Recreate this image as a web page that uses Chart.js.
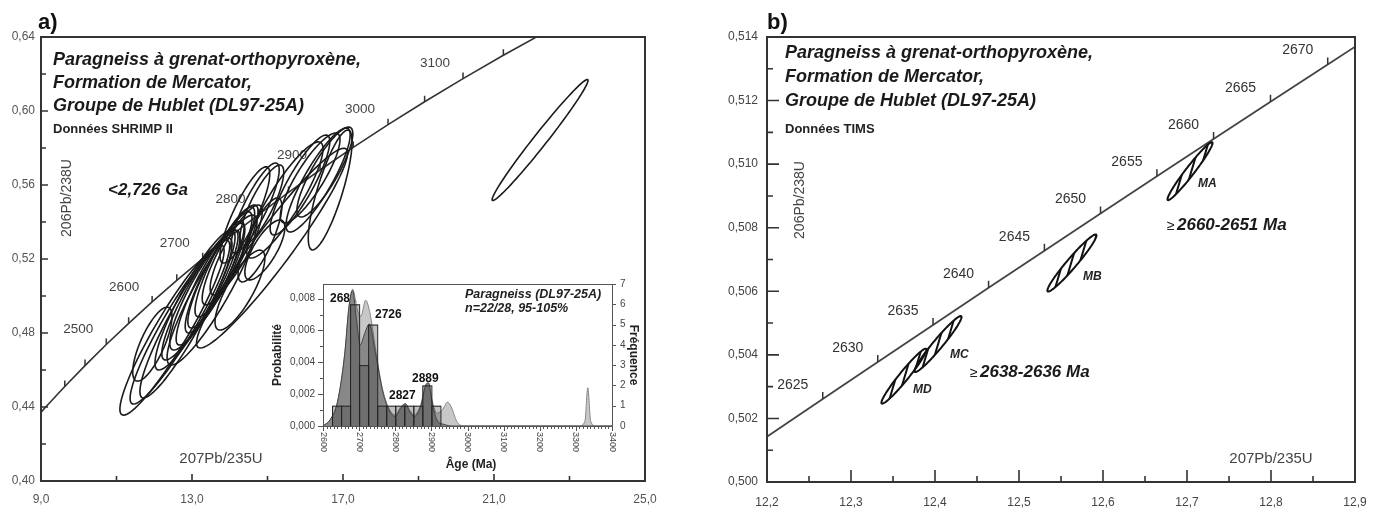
<!DOCTYPE html>
<html lang="fr">
<head>
<meta charset="utf-8">
<title>Concordia DL97-25A</title>
<script src="https://cdn.jsdelivr.net/npm/chart.js@4.4.1/dist/chart.umd.min.js"></script>
<style>
  html, body { margin: 0; padding: 0; background: #fff; }
  #wrap { position: relative; width: 1381px; height: 512px; overflow: hidden; background: #fff; }
  #wrap canvas { position: absolute; }
</style>
</head>
<body>
<div id="wrap">
  <canvas id="chart-a" width="680" height="512" style="left:0;top:0"></canvas>
  <canvas id="chart-inset" width="400" height="205" style="left:250px;top:270px"></canvas>
  <canvas id="chart-b" width="691" height="512" style="left:690px;top:0"></canvas>
</div>
<script>
// ── Data ──────────────────────────────────────────────────────────────────────
const LAMBDA_238 = 1.55125e-4;   // Ma^-1
const LAMBDA_235 = 9.8485e-4;    // Ma^-1

// panel a : SHRIMP II
const aConcordiaAges = [2300, 2350, 2400, 2450, 2500, 2550, 2600, 2650, 2700, 2750, 2800,
                        2850, 2900, 2950, 3000, 3050, 3100, 3150, 3200, 3250];
const aTickAges  = [2400, 2450, 2500, 2550, 2600, 2650, 2700, 2750, 2800, 2850, 2900, 2950, 3000, 3050, 3100, 3150];
const aLabelAges = [2500, 2600, 2700, 2800, 2900, 3000, 3100];

const aEllX   = [12.47, 12.68, 12.84, 11.95, 13.08, 13.21, 13.34, 13.48, 13.61, 13.74, 13.87, 13.53, 14.01, 14.17,
                 15.12, 14.40, 14.67, 14.85, 15.46, 15.86, 16.13, 16.34, 16.52, 16.66, 14.80, 14.93, 14.27, 22.22];
const aEllY   = [0.4816, 0.4859, 0.4881, 0.4740, 0.4978, 0.5005, 0.5032, 0.5070, 0.5097, 0.5141, 0.5184, 0.5032, 0.5222, 0.5249,
                 0.5259, 0.5438, 0.5476, 0.5492, 0.5519, 0.5600, 0.5638, 0.5627, 0.5670, 0.5573, 0.5303, 0.5249, 0.5032, 0.5843];
const aEllSX  = [1.38, 1.32, 1.22, 0.52, 1.06, 1.01, 0.93, 0.90, 0.79, 0.85, 0.79, 1.19, 0.74, 0.69,
                 2.00, 0.66, 0.64, 0.58, 1.01, 0.79, 0.79, 0.85, 0.74, 0.58, 0.58, 0.53, 0.66, 1.27];
const aEllSY  = [0.046, 0.0443, 0.0432, 0.0200, 0.0378, 0.0351, 0.0324, 0.0335, 0.0297, 0.0314, 0.0297, 0.0405, 0.027, 0.0243,
                 0.054, 0.026, 0.0243, 0.0216, 0.0314, 0.027, 0.0243, 0.0281, 0.0243, 0.0324, 0.0227, 0.0162, 0.0216, 0.0327];
const aEllRho = [0.93, 0.93, 0.92, 0.75, 0.90, 0.90, 0.88, 0.90, 0.88, 0.89, 0.88, 0.90, 0.87, 0.85,
                 0.95, 0.85, 0.85, 0.82, 0.88, 0.87, 0.85, 0.87, 0.85, 0.80, 0.80, 0.75, 0.80, 0.985];

// inset : probability density / histogram
const darkAges  = [2600, 2620, 2640, 2660, 2672, 2682, 2692, 2703, 2715, 2728, 2745, 2765, 2785, 2800, 2815,
                   2828, 2840, 2852, 2870, 2885, 2892, 2902, 2915, 2935, 2960, 3400];
const darkProb  = [0, 0.0004, 0.0015, 0.0045, 0.0075, 0.0085, 0.0068, 0.0051, 0.0058, 0.0064, 0.0046, 0.0022, 0.0009, 0.0006, 0.0011,
                   0.0014, 0.0009, 0.0006, 0.0012, 0.0026, 0.0027, 0.0015, 0.0004, 0.0001, 0, 0];
const lightAges = [2600, 2620, 2640, 2660, 2672, 2682, 2695, 2705, 2718, 2730, 2745, 2765, 2785, 2800, 2815, 2828, 2840,
                   2852, 2870, 2885, 2892, 2902, 2915, 2930, 2945, 2955, 2970, 2990, 3310, 3325, 3333, 3341, 3355, 3400];
const lightProb = [0, 0.0004, 0.0015, 0.0045, 0.0075, 0.0086, 0.0073, 0.0069, 0.0079, 0.0071, 0.0049, 0.0023, 0.0010, 0.0007, 0.0012, 0.0014, 0.0010,
                   0.0007, 0.0013, 0.0026, 0.0027, 0.0016, 0.0008, 0.0010, 0.0015, 0.0012, 0.0003, 0, 0, 0.0003, 0.0024, 0.0003, 0, 0];
const histBinStart = [2625, 2650, 2675, 2700, 2725, 2750, 2775, 2800, 2825, 2850, 2875, 2900];
const histCount    = [1, 1, 6, 3, 5, 1, 1, 1, 1, 1, 2, 1];
const HIST_BIN = 25;

// panel b : TIMS
const bConcordiaAges = [2610, 2615, 2620, 2625, 2630, 2635, 2640, 2645, 2650, 2655, 2660, 2665, 2670, 2675, 2680];
const bTickAges  = [2625, 2630, 2635, 2640, 2645, 2650, 2655, 2660, 2665, 2670];
const bEllNames = ['MA', 'MB', 'MC', 'MD'];
const bEllX   = [12.7036, 12.563, 12.4036, 12.363];
const bEllY   = [0.50978, 0.50689, 0.50434, 0.50333];
const bEllSX  = [0.0268, 0.0292, 0.0280, 0.0268];
const bEllSY  = [0.000912, 0.000897, 0.000881, 0.000865];
const bEllRho = [0.97, 0.965, 0.965, 0.965];

// ── Helpers ───────────────────────────────────────────────────────────────────
const FONT = '"Liberation Sans", Arial, Helvetica, sans-serif';
Chart.defaults.font.family = FONT;

const r206 = t => Math.exp(LAMBDA_238 * t) - 1;
const r207 = t => Math.exp(LAMBDA_235 * t) - 1;
const fmt  = (v, d) => v.toFixed(d).replace('.', ',');
const concordiaPoints = ages => ages.map(t => ({ x: r207(t), y: r206(t) }));

function txt(ctx, str, x, y, font, color, align = 'left', baseline = 'alphabetic', rot = 0) {
  ctx.save();
  ctx.font = font; ctx.fillStyle = color; ctx.textAlign = align; ctx.textBaseline = baseline;
  ctx.translate(x, y);
  if (rot) ctx.rotate(rot);
  ctx.fillText(str, 0, 0);
  ctx.restore();
}

function ellipsePath(ctx, xs, ys, cx, cy, sx, sy, rho) {
  const q = Math.sqrt(1 - rho * rho);
  ctx.beginPath();
  for (let k = 0; k <= 96; k++) {
    const th = k / 96 * 2 * Math.PI;
    const px = xs.getPixelForValue(cx + sx * Math.cos(th));
    const py = ys.getPixelForValue(cy + sy * (rho * Math.cos(th) + q * Math.sin(th)));
    k ? ctx.lineTo(px, py) : ctx.moveTo(px, py);
  }
  ctx.closePath();
}

function frameAndTicks(chart, xStep, yStep, majLen, minLen) {
  const { ctx, chartArea: a, scales: { x, y } } = chart;
  ctx.save();
  ctx.strokeStyle = '#333';
  ctx.lineWidth = 2;
  ctx.strokeRect(a.left, a.top, a.right - a.left, a.bottom - a.top);
  ctx.lineWidth = 1.6;
  ctx.beginPath();
  x.ticks.forEach(t => {
    if (t.value <= x.min || t.value >= x.max) return;
    const len = Math.round((t.value - x.min) / xStep) % 2 === 0 ? majLen : minLen;
    const px = x.getPixelForValue(t.value);
    ctx.moveTo(px, a.bottom); ctx.lineTo(px, a.bottom - len);
  });
  y.ticks.forEach(t => {
    if (t.value <= y.min || t.value >= y.max) return;
    const len = Math.round((t.value - y.min) / yStep) % 2 === 0 ? majLen : minLen;
    const py = y.getPixelForValue(t.value);
    ctx.moveTo(a.left, py); ctx.lineTo(a.left + len, py);
  });
  ctx.stroke();
  ctx.restore();
}

function concordiaTicks(chart, ages, len) {
  const { ctx, chartArea: a, scales: { x, y } } = chart;
  ctx.save();
  ctx.strokeStyle = '#333'; ctx.lineWidth = 1.5;
  ctx.beginPath();
  ages.forEach(t => {
    const px = x.getPixelForValue(r207(t)), py = y.getPixelForValue(r206(t));
    if (px < a.left + 3 || px > a.right || py < a.top + len || py > a.bottom) return;
    ctx.moveTo(px, py); ctx.lineTo(px, py - len);
  });
  ctx.stroke();
  ctx.restore();
}

function concordiaLabels(chart, ages, font, dx, dy, color) {
  const { ctx, chartArea: a, scales: { x, y } } = chart;
  ages.forEach(t => {
    const px = x.getPixelForValue(r207(t)) + dx, py = y.getPixelForValue(r206(t)) + dy;
    if (px - 14 < a.left || py < a.top) return;
    txt(ctx, String(t), px, py, font, color, 'center', 'middle');
  });
}

function axisScales(o) {
  return {
    x: {
      type: 'linear', min: o.xMin, max: o.xMax,
      grid: { display: false, drawTicks: false }, border: { display: false },
      ticks: { stepSize: o.xStep, autoSkip: false, maxRotation: 0, padding: o.xPad, color: o.color, font: { size: o.size },
               callback: v => Math.round((v - o.xMin) / o.xStep) % 2 === 0 ? fmt(v, o.xDec) : '' },
      afterFit: s => { s.height = o.xH; },
    },
    y: {
      type: 'linear', min: o.yMin, max: o.yMax,
      grid: { display: false, drawTicks: false }, border: { display: false },
      ticks: { stepSize: o.yStep, autoSkip: false, padding: o.yPad, color: o.color, font: { size: o.size },
               callback: v => Math.round((v - o.yMin) / o.yStep) % 2 === 0 ? fmt(v, o.yDec) : '' },
      afterFit: s => { s.width = o.yW; },
    },
  };
}

const baseOptions = {
  responsive: false,
  animation: false,
  events: [],
  plugins: { legend: { display: false }, tooltip: { enabled: false } },
};

// ── Panel a ───────────────────────────────────────────────────────────────────
const panelAPlugin = {
  id: 'panelA',
  beforeDatasetsDraw(chart) {
    concordiaLabels(chart, aLabelAges, '13.5px ' + FONT, -28, -15, '#444');
  },
  afterDatasetsDraw(chart) {
    const { ctx, scales: { x, y } } = chart;
    concordiaTicks(chart, aTickAges, 6);
    ctx.save();
    ctx.strokeStyle = '#1a1a1a';
    ctx.lineWidth = 1.6;
    aEllX.forEach((cx, i) => {
      ellipsePath(ctx, x, y, cx, aEllY[i], aEllSX[i], aEllSY[i], aEllRho[i]);
      ctx.stroke();
    });
    ctx.restore();
    frameAndTicks(chart, 2, 0.02, 7, 5);

    const bi = 'italic bold 18px ' + FONT;
    txt(ctx, 'a)', 38, 29, 'bold 22px ' + FONT, '#111');
    txt(ctx, 'Paragneiss à grenat-orthopyroxène,', 53, 65, bi, '#1a1a1a');
    txt(ctx, 'Formation de Mercator,', 53, 88, bi, '#1a1a1a');
    txt(ctx, 'Groupe de Hublet (DL97-25A)', 53, 111, bi, '#1a1a1a');
    txt(ctx, 'Données SHRIMP II', 53, 133, 'bold 13px ' + FONT, '#222');
    txt(ctx, '<2,726 Ga', 108, 195, 'italic bold 17px ' + FONT, '#1a1a1a');
    txt(ctx, '206Pb/238U', 67, 198, '14px ' + FONT, '#444', 'center', 'middle', -Math.PI / 2);
    txt(ctx, '207Pb/235U', 221, 463, '15px ' + FONT, '#444', 'center');
  },
};

new Chart(document.getElementById('chart-a'), {
  type: 'scatter',
  data: {
    datasets: [{
      label: 'Concordia',
      data: concordiaPoints(aConcordiaAges),
      showLine: true, borderColor: '#333', borderWidth: 1.6, pointRadius: 0, fill: false,
    }],
  },
  options: {
    ...baseOptions,
    layout: { padding: { left: 0, top: 37, right: 35, bottom: 0 } },
    scales: axisScales({ xMin: 9, xMax: 25, xStep: 2, xDec: 1, xPad: 11, xH: 31,
                         yMin: 0.40, yMax: 0.64, yStep: 0.02, yDec: 2, yPad: 6, yW: 41,
                         color: '#555', size: 12 }),
  },
  plugins: [panelAPlugin],
});

// ── Inset ─────────────────────────────────────────────────────────────────────
const insetPlugin = {
  id: 'inset',
  beforeDraw(chart) {
    const { ctx } = chart;
    ctx.save();
    ctx.fillStyle = '#fff';
    ctx.fillRect(18, 30, 375, 174);
    ctx.fillRect(50, 0, 343, 30);
    ctx.restore();
  },
  beforeDatasetsDraw(chart) {
    txt(chart.ctx, '2681', 80, 32, 'bold 12px ' + FONT, '#111');
  },
  afterDatasetsDraw(chart) {
    const { ctx, chartArea: a, scales: { x, y, y1 } } = chart;
    ctx.save();
    // histogram
    ctx.lineWidth = 1;
    ctx.strokeStyle = '#222';
    ctx.fillStyle = 'rgba(60,60,60,0.32)';
    histBinStart.forEach((b, i) => {
      const x0 = x.getPixelForValue(b), x1 = x.getPixelForValue(b + HIST_BIN);
      const yt = y1.getPixelForValue(histCount[i]);
      ctx.fillRect(x0, yt, x1 - x0, a.bottom - yt);
      ctx.strokeRect(x0 + 0.5, yt + 0.5, x1 - x0, a.bottom - yt);
    });
    // frame
    ctx.strokeStyle = '#555';
    ctx.strokeRect(a.left + 0.5, a.top + 0.5, a.right - a.left, a.bottom - a.top);
    ctx.beginPath();
    for (let v = 0; v <= 0.0085; v += 0.001) {
      const py = Math.round(y.getPixelForValue(v)) + 0.5;
      const len = Math.round(v / 0.001) % 2 === 0 ? 5 : 3;
      ctx.moveTo(a.left, py); ctx.lineTo(a.left - len, py);
    }
    for (let v = 1; v <= 7; v++) {
      const py = Math.round(y1.getPixelForValue(v)) + 0.5;
      ctx.moveTo(a.right, py); ctx.lineTo(a.right + 4, py);
    }
    for (let v = 2600; v <= 3400; v += 10) {
      const px = Math.round(x.getPixelForValue(v)) + 0.5;
      ctx.moveTo(px, a.bottom); ctx.lineTo(px, a.bottom + ((v % 100) === 0 ? 5 : 3));
    }
    ctx.stroke();
    ctx.restore();
    x.ticks.forEach(t => {
      txt(ctx, String(t.value), x.getPixelForValue(t.value), a.bottom + 6, '9px ' + FONT, '#444', 'left', 'middle', Math.PI / 2);
    });

    const b12 = 'bold 12px ' + FONT, bi12 = 'italic bold 12.5px ' + FONT;
    txt(ctx, '2726', 125, 48, b12, '#111');
    txt(ctx, '2889', 162, 112, b12, '#111');
    txt(ctx, '2827', 139, 129, b12, '#111');
    txt(ctx, 'Paragneiss (DL97-25A)', 215, 28, bi12, '#222');
    txt(ctx, 'n=22/28, 95-105%', 215, 42, bi12, '#222');
    txt(ctx, 'Probabilité', 28, 85, b12, '#222', 'center', 'middle', -Math.PI / 2);
    txt(ctx, 'Fréquence', 383, 85, b12, '#222', 'center', 'middle', Math.PI / 2);
    txt(ctx, 'Âge (Ma)', 221, 198, b12, '#222', 'center');
  },
};

new Chart(document.getElementById('chart-inset'), {
  type: 'line',
  data: {
    datasets: [
      { label: 'n=22', data: darkAges.map((t, i) => ({ x: t, y: darkProb[i] })), yAxisID: 'y',
        borderColor: '#444', borderWidth: 1, backgroundColor: '#888', fill: 'origin',
        pointRadius: 0, cubicInterpolationMode: 'monotone' },
      { label: 'n=28', data: lightAges.map((t, i) => ({ x: t, y: lightProb[i] })), yAxisID: 'y',
        borderColor: '#888', borderWidth: 1, backgroundColor: '#c8c8c8', fill: 'origin',
        pointRadius: 0, cubicInterpolationMode: 'monotone' },
    ],
  },
  options: {
    ...baseOptions,
    layout: { padding: { left: 0, top: 12, right: 0, bottom: 0 } },
    scales: {
      x: { type: 'linear', min: 2600, max: 3400, grid: { display: false, drawTicks: false }, border: { display: false },
           ticks: { display: false, stepSize: 100 }, afterFit: s => { s.height = 49; } },
      y: { position: 'left', min: 0, max: 0.00892, grid: { display: false, drawTicks: false }, border: { display: false },
           ticks: { stepSize: 0.002, includeBounds: false, padding: 8, color: '#444', font: { size: 10 }, callback: v => fmt(v, 3) },
           afterFit: s => { s.width = 73; } },
      y1: { position: 'right', min: 0, max: 7, grid: { display: false, drawTicks: false }, border: { display: false },
            ticks: { stepSize: 1, padding: 8, color: '#444', font: { size: 10 } },
            afterFit: s => { s.width = 38; } },
    },
  },
  plugins: [insetPlugin],
});

// ── Panel b ───────────────────────────────────────────────────────────────────
const B_OFF = 690;
const panelBPlugin = {
  id: 'panelB',
  beforeDatasetsDraw(chart) {
    concordiaLabels(chart, bTickAges, '14px ' + FONT, -30, -14, '#333');
  },
  afterDatasetsDraw(chart) {
    const { ctx, scales: { x, y } } = chart;
    concordiaTicks(chart, bTickAges, 7);
    ctx.save();
    bEllX.forEach((cx, i) => {
      ctx.save();
      ellipsePath(ctx, x, y, cx, bEllY[i], bEllSX[i], bEllSY[i], bEllRho[i]);
      ctx.clip();
      const x0 = x.getPixelForValue(cx - bEllSX[i]), x1 = x.getPixelForValue(cx + bEllSX[i]);
      const yTop = y.getPixelForValue(bEllY[i] + bEllSY[i]), yBot = y.getPixelForValue(bEllY[i] - bEllSY[i]);
      ctx.strokeStyle = '#111'; ctx.lineWidth = 2;
      ctx.beginPath();
      for (let hx = x0 - 20; hx < x1 + 20; hx += 8.5) {
        ctx.moveTo(hx, yBot + 4); ctx.lineTo(hx + (yBot - yTop + 8) * 0.3, yTop - 4);
      }
      ctx.stroke();
      ctx.restore();
      ellipsePath(ctx, x, y, cx, bEllY[i], bEllSX[i], bEllSY[i], bEllRho[i]);
      ctx.strokeStyle = '#111'; ctx.lineWidth = 2;
      ctx.stroke();
    });
    ctx.restore();
    frameAndTicks(chart, 0.05, 0.001, 12, 6);

    const o = B_OFF;
    const bi = 'italic bold 18px ' + FONT, bi12 = 'italic bold 12px ' + FONT, bi17 = 'italic bold 17px ' + FONT;
    txt(ctx, 'b)', 767 - o, 29, 'bold 22px ' + FONT, '#111');
    txt(ctx, 'Paragneiss à grenat-orthopyroxène,', 785 - o, 58, bi, '#1a1a1a');
    txt(ctx, 'Formation de Mercator,', 785 - o, 82, bi, '#1a1a1a');
    txt(ctx, 'Groupe de Hublet (DL97-25A)', 785 - o, 106, bi, '#1a1a1a');
    txt(ctx, 'Données TIMS', 785 - o, 133, 'bold 13px ' + FONT, '#222');
    txt(ctx, '206Pb/238U', 800 - o, 200, '14px ' + FONT, '#444', 'center', 'middle', -Math.PI / 2);
    txt(ctx, '207Pb/235U', 1271 - o, 463, '15px ' + FONT, '#444', 'center');
    const labelPos = [[1198, 187], [1083, 280], [950, 358], [913, 393]];
    bEllNames.forEach((n, i) => txt(ctx, n, labelPos[i][0] - o, labelPos[i][1], bi12, '#222'));
    txt(ctx, '≥', 1167 - o, 230, '14px ' + FONT, '#222');
    txt(ctx, '2660-2651 Ma', 1177 - o, 230, bi17, '#1a1a1a');
    txt(ctx, '≥', 970 - o, 377, '14px ' + FONT, '#222');
    txt(ctx, '2638-2636 Ma', 980 - o, 377, bi17, '#1a1a1a');
  },
};

new Chart(document.getElementById('chart-b'), {
  type: 'scatter',
  data: {
    datasets: [{
      label: 'Concordia',
      data: concordiaPoints(bConcordiaAges),
      showLine: true, borderColor: '#444', borderWidth: 1.8, pointRadius: 0, fill: false,
    }],
  },
  options: {
    ...baseOptions,
    layout: { padding: { left: 0, top: 37, right: 26, bottom: 0 } },
    scales: axisScales({ xMin: 12.2, xMax: 12.9, xStep: 0.05, xDec: 1, xPad: 13, xH: 30,
                         yMin: 0.500, yMax: 0.514, yStep: 0.001, yDec: 3, yPad: 9, yW: 77,
                         color: '#444', size: 12 }),
  },
  plugins: [panelBPlugin],
});
</script>
</body>
</html>
